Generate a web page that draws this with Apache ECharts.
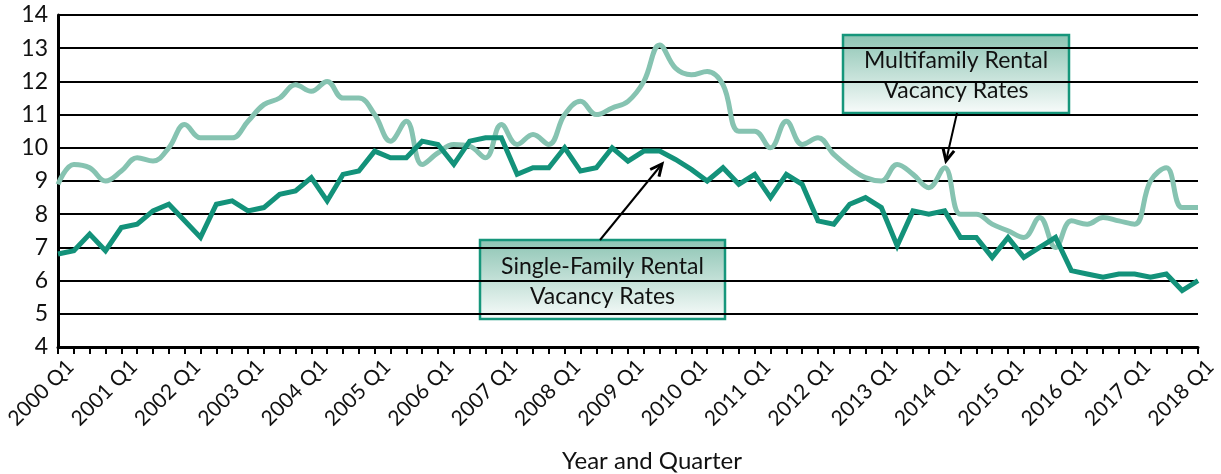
<!DOCTYPE html>
<html>
<head>
<meta charset="utf-8">
<script src="https://cdn.jsdelivr.net/npm/echarts@6/dist/echarts.min.js"></script>
<style>
  html, body { margin: 0; padding: 0; background: #fff; }
  #chart { width: 1221px; height: 474px; }
</style>
</head>
<body>
<div id="chart"></div>
<script>
// quarters 2000 Q1 .. 2018 Q1
var years = [];
for (var y = 2000; y <= 2018; y++) years.push(y);
var quarters = [];
years.forEach(function (yr) {
  for (var q = 1; q <= 4; q++) {
    if (yr === 2018 && q > 1) break;
    quarters.push(yr + ' Q' + q);
  }
});

var singleFamily = [
  6.8, 6.9, 7.4, 6.9, 7.6, 7.7, 8.1, 8.3, 7.8, 7.3, 8.3, 8.4,
  8.1, 8.2, 8.6, 8.7, 9.1, 8.4, 9.2, 9.3, 9.9, 9.7, 9.7, 10.2,
  10.1, 9.5, 10.2, 10.3, 10.3, 9.2, 9.4, 9.4, 10.0, 9.3, 9.4, 10.0,
  9.6, 9.9, 9.9, 9.65, 9.35, 9.0, 9.4, 8.9, 9.2, 8.5, 9.2, 8.9,
  7.8, 7.7, 8.3, 8.5, 8.2, 7.05, 8.1, 8.0, 8.1, 7.3, 7.3, 6.7,
  7.3, 6.7, 7.0, 7.3, 6.3, 6.2, 6.1, 6.2, 6.2, 6.1, 6.2, 5.7,
  6.0
];

var multiFamily = [
  8.9, 9.5, 9.4, 9.0, 9.3, 9.7, 9.6, 10.0, 10.7, 10.3, 10.3, 10.3,
  10.8, 11.3, 11.5, 11.9, 11.7, 12.0, 11.5, 11.5, 11.0, 10.2, 10.8, 9.5,
  9.85, 10.1, 10.05, 9.7, 10.7, 10.1, 10.4, 10.1, 11.0, 11.4, 11.0, 11.2,
  11.4, 12.0, 13.1, 12.4, 12.2, 12.3, 11.9, 10.5, 10.5, 10.0, 10.8, 10.1,
  10.3, 9.8, 9.4, 9.1, 9.0, 9.5, 9.2, 8.8, 9.4, 8.0, 8.0, 7.7,
  7.5, 7.3, 7.9, 7.0, 7.8, 7.7, 7.9, 7.8, 7.7, 9.0, 9.4, 8.2,
  8.2
];

var darkGreen = '#13927a';
var lightGreen = '#86c3b1';
var fontFam = 'Lato, "Open Sans", sans-serif';

var boxFill = new echarts.graphic.LinearGradient(0, 0, 0, 1, [
  { offset: 0, color: '#8cc4b3' },
  { offset: 1, color: '#f9fcfb' }
]);

function arrow(x1, y1, x2, y2) {
  var ang = Math.atan2(y2 - y1, x2 - x1);
  var len = 13, spread = 0.45;
  var a1 = [x2 - len * Math.cos(ang - spread), y2 - len * Math.sin(ang - spread)];
  var a2 = [x2 - len * Math.cos(ang + spread), y2 - len * Math.sin(ang + spread)];
  return [
    { type: 'line', shape: { x1: x1, y1: y1, x2: x2, y2: y2 },
      style: { stroke: '#000', lineWidth: 2 }, z: 100 },
    { type: 'polyline', shape: { points: [a1, [x2, y2], a2] },
      style: { stroke: '#000', lineWidth: 3, fill: null }, z: 100 }
  ];
}

function box(x, y, w, h, text) {
  return {
    type: 'group', x: x, y: y, z: 100,
    children: [
      { type: 'rect', shape: { x: 0, y: 0, width: w, height: h },
        style: { fill: boxFill, stroke: '#16967b', lineWidth: 2.5 } },
      { type: 'text', x: w / 2, y: h / 2 + 2,
        style: { text: text, fill: '#111', fontSize: 23, fontFamily: fontFam,
          align: 'center', verticalAlign: 'middle', lineHeight: 30 } }
    ]
  };
}

var chart = echarts.init(document.getElementById('chart'));
chart.setOption({
  animation: false,
  backgroundColor: '#fff',
  grid: { left: 58, right: 23, top: 15, bottom: 127, containLabel: false, outerBoundsMode: 'none' },
  xAxis: {
    type: 'category',
    data: quarters,
    boundaryGap: false,
    name: 'Year and Quarter',
    nameLocation: 'middle',
    nameGap: 102,
    nameTextStyle: { fontSize: 24, color: '#111', fontFamily: fontFam, padding: [0, 0, 0, 48] },
    axisLine: { lineStyle: { color: '#000', width: 3 } },
    axisTick: { show: true, interval: 0, length: 7, lineStyle: { color: '#000', width: 2 } },
    axisLabel: {
      interval: 3, rotate: 45, fontSize: 21, color: '#111',
      fontFamily: fontFam, margin: 4, verticalAlign: 'top', padding: [7, 0, 0, 0]
    },
    splitLine: { show: false }
  },
  yAxis: {
    type: 'value',
    min: 4, max: 14, interval: 1,
    axisLine: { show: true, lineStyle: { color: '#000', width: 3 } },
    axisTick: { show: false },
    axisLabel: { fontSize: 23, color: '#111', fontFamily: fontFam, margin: 10 },
    splitLine: { lineStyle: { color: '#000', width: 2 } }
  },
  series: [
    {
      name: 'Multifamily Rental Vacancy Rates',
      type: 'line',
      data: multiFamily,
      smooth: 0.4,
      symbol: 'none',
      lineStyle: { color: lightGreen, width: 5 },
      z: 3
    },
    {
      name: 'Single-Family Rental Vacancy Rates',
      type: 'line',
      data: singleFamily,
      symbol: 'none',
      lineStyle: { color: darkGreen, width: 5, join: 'miter' },
      z: 4
    }
  ],
  graphic: [
    box(843, 35, 226, 78, 'Multifamily Rental\nVacancy Rates'),
    box(480, 240, 245, 79, 'Single-Family Rental\nVacancy Rates')
  ].concat(arrow(957, 113, 946, 161)).concat(arrow(600, 240, 662, 164))
});
</script>
</body>
</html>
